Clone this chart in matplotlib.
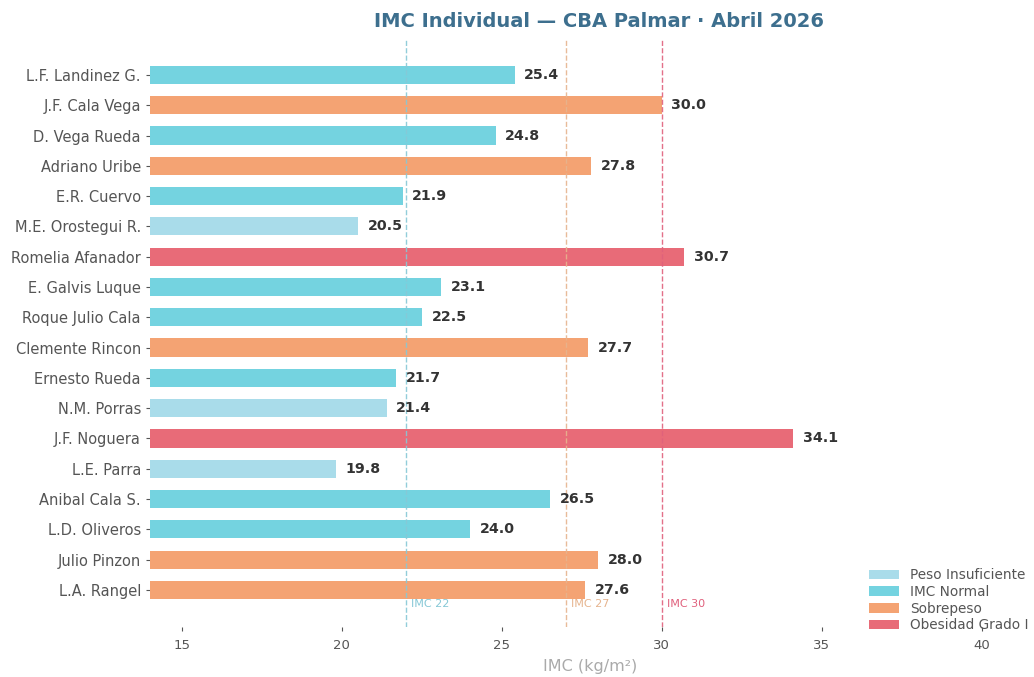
import matplotlib
matplotlib.use("Agg")
import matplotlib.pyplot as plt
from matplotlib.patches import Patch

names = ["L.F. Landinez G.", "J.F. Cala Vega", "D. Vega Rueda", "Adriano Uribe",
         "E.R. Cuervo", "M.E. Orostegui R.", "Romelia Afanador", "E. Galvis Luque",
         "Roque Julio Cala", "Clemente Rincon", "Ernesto Rueda", "N.M. Porras",
         "J.F. Noguera", "L.E. Parra", "Anibal Cala S.", "L.D. Oliveros",
         "Julio Pinzon", "L.A. Rangel"]
imc = [25.4, 30.0, 24.8, 27.8, 21.9, 20.5, 30.7, 23.1, 22.5, 27.7, 21.7, 21.4,
       34.1, 19.8, 26.5, 24.0, 28.0, 27.6]
category = ["Normal", "Sobrepeso", "Normal", "Sobrepeso", "Normal", "Insuficiente",
            "Obesidad", "Normal", "Normal", "Sobrepeso", "Normal", "Insuficiente",
            "Obesidad", "Insuficiente", "Normal", "Normal", "Sobrepeso", "Sobrepeso"]
legend_labels = ["Peso Insuficiente", "IMC Normal", "Sobrepeso", "Obesidad Grado I"]
legend_keys = ["Insuficiente", "Normal", "Sobrepeso", "Obesidad"]
ref_values = [22, 27, 30]
ref_labels = ["IMC 22", "IMC 27", "IMC 30"]
xticks = [15, 20, 25, 30, 35, 40]

colors = {"Insuficiente": "#a9dcea", "Normal": "#74d3e0",
          "Sobrepeso": "#f4a373", "Obesidad": "#e86b78"}
ref_colors = ["#86c8d6", "#e6b48e", "#e0607c"]

fig = plt.figure(figsize=(10.34, 6.77), dpi=100)
ax = fig.add_axes([0.145, 0.074, 0.851, 0.867])

y = list(range(len(names)))
ax.barh(y, imc, height=0.6, color=[colors[c] for c in category], zorder=2)

for yi, v in zip(y, imc):
    ax.text(v + 0.3, yi, f"{v:.1f}", va="center", ha="left", fontsize=10.2,
            fontweight="bold", color="#333333", zorder=4)

for rv, rl, rc in zip(ref_values, ref_labels, ref_colors):
    ax.axvline(rv, color=rc, linestyle="--", linewidth=1.0, alpha=0.9, zorder=3)
    ax.text(rv + 0.15, 17.45, rl, color=rc, fontsize=8, va="center", ha="left", zorder=3)

ax.set_yticks(y)
ax.set_yticklabels(names)
ax.set_xticks(xticks)
ax.set_xlim(14.0, 41.5)
ax.set_ylim(18.22, -1.155)

for s in ax.spines.values():
    s.set_visible(False)
ax.tick_params(axis="y", colors="#555555", labelsize=10.5, length=3, width=0.8)
ax.tick_params(axis="x", colors="#555555", labelsize=9.5, length=3, width=0.8, pad=6)

ax.set_xlabel("IMC (kg/m²)", color="#aaaaaa", fontsize=11.5, labelpad=5)
ax.set_title("IMC Individual — CBA Palmar · Abril 2026", fontsize=14,
             fontweight="bold", color="#3d6f8e", pad=9, x=0.51)

handles = [Patch(facecolor=colors[k], edgecolor="none") for k in legend_keys]
ax.legend(handles, legend_labels, loc="lower right", frameon=False, fontsize=9.8,
          labelcolor="#555555", bbox_to_anchor=(1.012, -0.03), handlelength=2.2,
          labelspacing=0.2)

fig.savefig("out.png", dpi=100)
